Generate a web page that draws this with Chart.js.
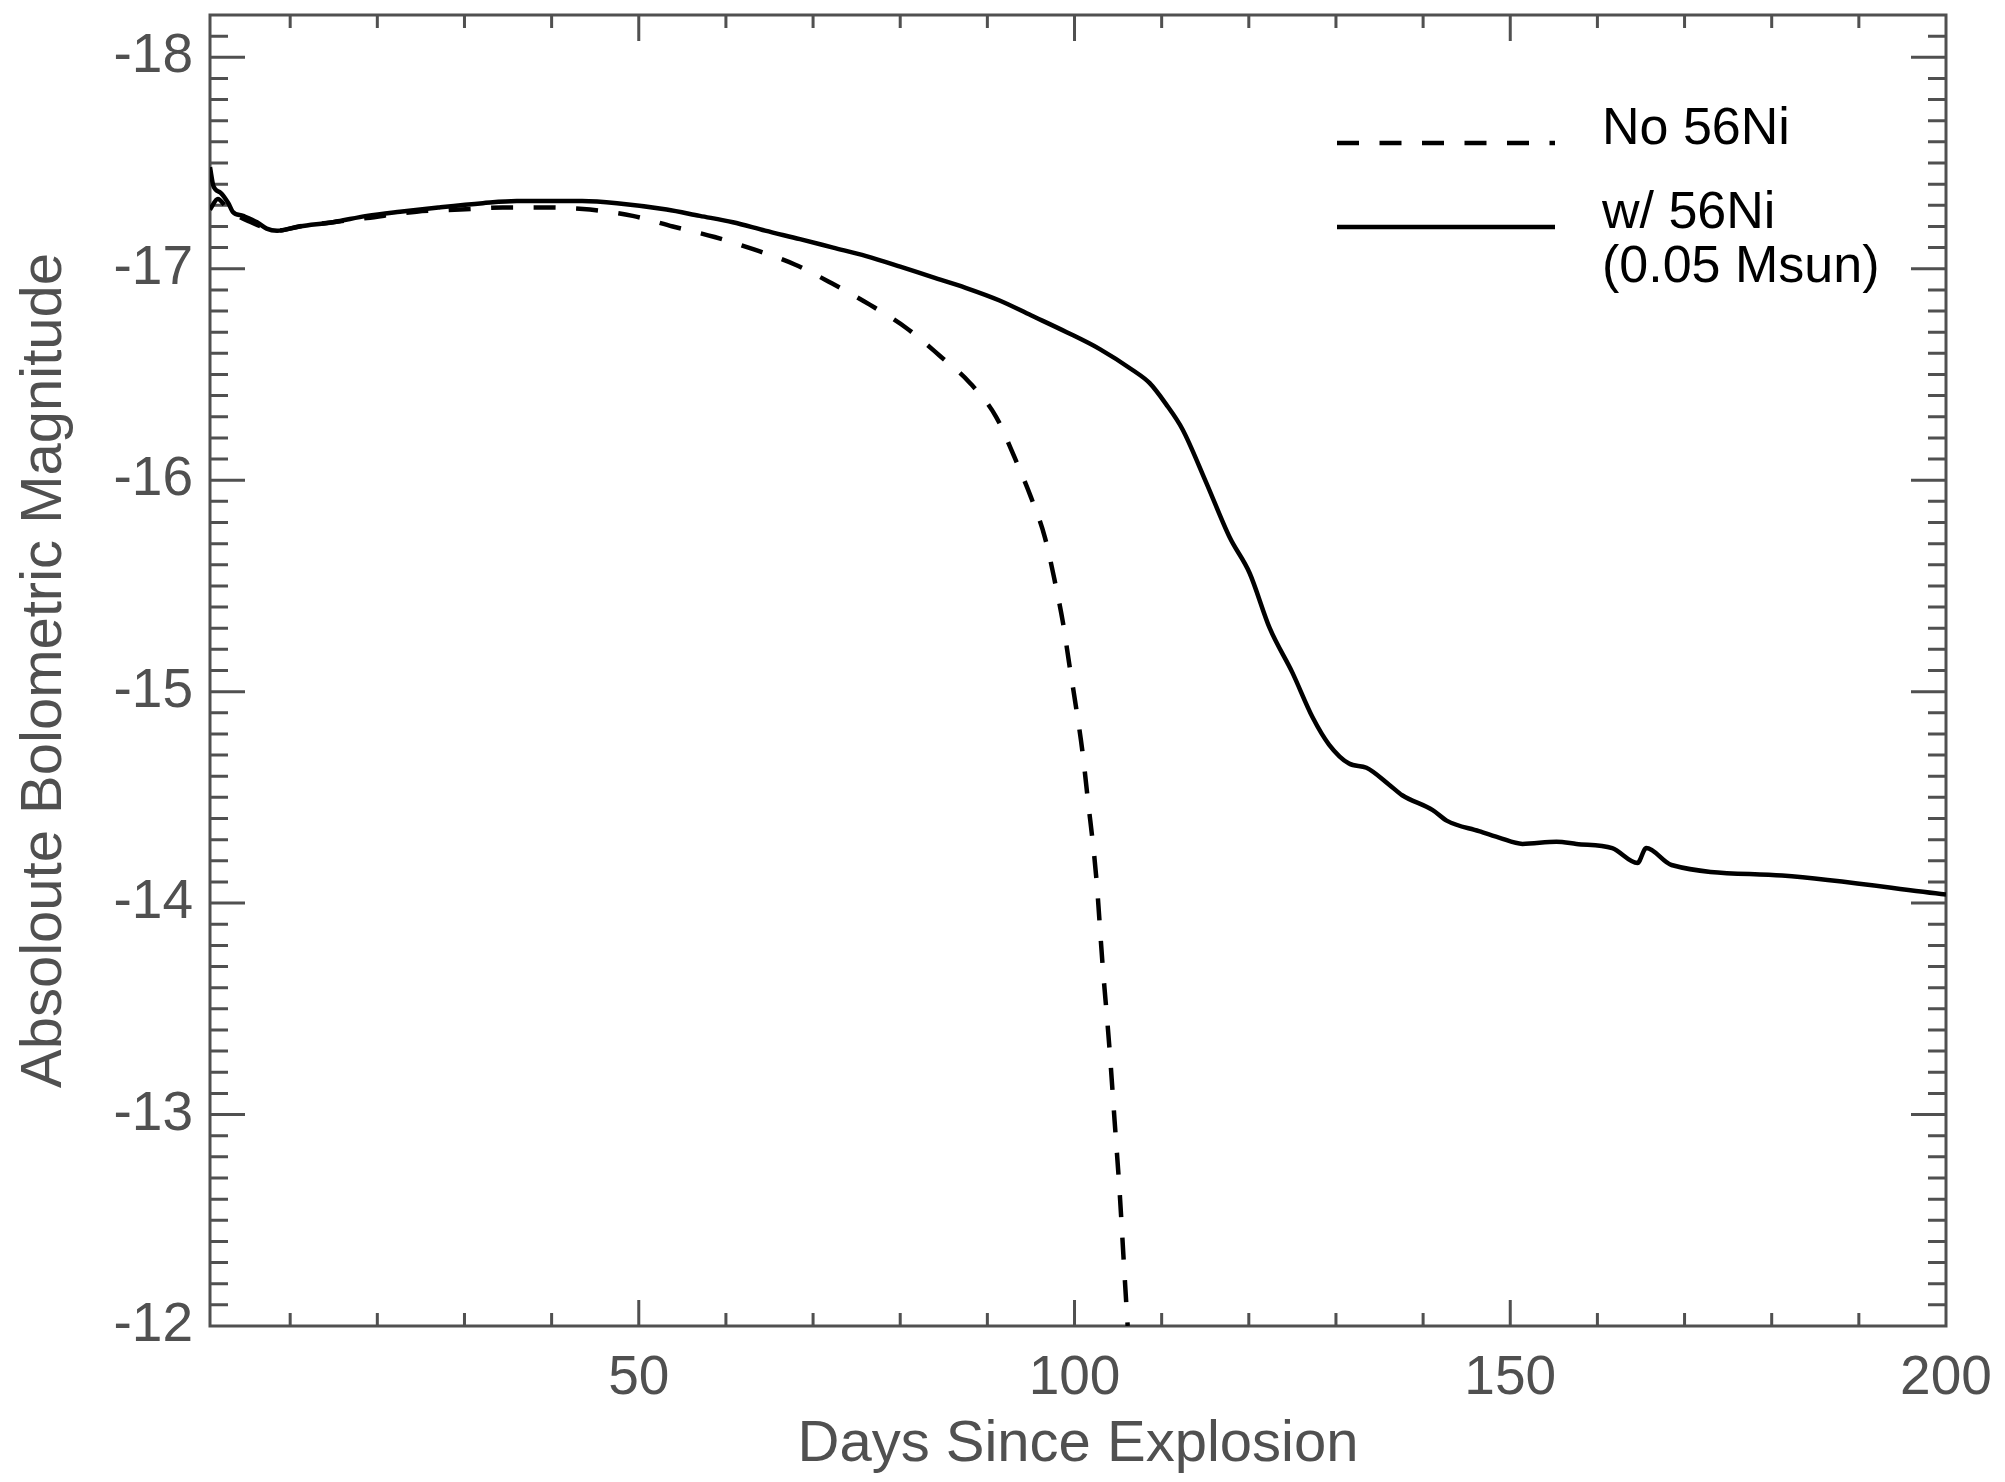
<!DOCTYPE html>
<html>
<head>
<meta charset="utf-8">
<script src="https://cdn.jsdelivr.net/npm/chart.js@4.4.0/dist/chart.umd.min.js"></script>
<style>
  html, body { margin: 0; padding: 0; background: #fff; }
  canvas { display: block; }
</style>
</head>
<body>
<canvas id="lightCurve" width="2005" height="1482"></canvas>
<script>
// light curves (days since explosion, absolute bolometric mag)
const daysNoNi = [0.8, 1.7, 2.7, 4.0, 5.5, 7.3, 8.5, 11, 14.9, 18.8, 24.5, 29.5, 34.4, 39.4, 44.4, 49.3,
  53.9, 58.7, 63.3, 67.9, 72.2, 76.5, 80.7, 84.5, 88, 91, 93.1, 95, 96.6, 97.7, 98.7, 99.4,
  100.2, 100.9, 101.5, 102.5, 103.2, 104, 104.6, 105.2, 105.7, 106.1];
const magNoNi = [-17.28, -17.33, -17.29, -17.25, -17.22, -17.19, -17.18, -17.20, -17.22, -17.24, -17.27, -17.28, -17.29, -17.29, -17.28, -17.25,
  -17.20, -17.15, -17.09, -17.02, -16.93, -16.83, -16.72, -16.59, -16.46, -16.30, -16.11, -15.92, -15.73, -15.53, -15.32, -15.13,
  -14.92, -14.72, -14.50, -14.12, -13.72, -13.32, -12.97, -12.62, -12.27, -12.0];

const daysWithNi = [0.8, 1.2, 2.0, 2.9, 3.4, 4.6, 6.2, 7.3, 8.5, 11.1, 14.9, 18.8, 22.6, 27, 32.1, 36, 39.8, 43.5, 47.5,
  53.2, 57, 60.8, 64.5, 68.5, 72.3, 76.1, 80, 83.7, 87.5, 91.4, 95, 99.1, 102.9, 106.7, 108.6, 110.5,
  112.4, 115.1, 117.8, 120.1, 122.4, 125, 127.3, 129.2, 131.5, 133.5, 136.1, 137.6, 141.1, 142.7,
  146.4, 148.7, 151.4, 155.3, 157.6, 161.7, 164.6, 165.6, 168.5, 181.2, 200];
const magWithNi = [-17.48, -17.39, -17.36, -17.31, -17.27, -17.25, -17.22, -17.19, -17.18, -17.20, -17.22, -17.25, -17.27, -17.29, -17.31, -17.32, -17.32, -17.32, -17.31,
  -17.28, -17.25, -17.22, -17.18, -17.14, -17.10, -17.06, -17.01, -16.96, -16.91, -16.85, -16.78, -16.70, -16.62, -16.52, -16.46, -16.36,
  -16.24, -15.99, -15.73, -15.56, -15.30, -15.09, -14.88, -14.75, -14.66, -14.64, -14.56, -14.51, -14.44, -14.39,
  -14.34, -14.31, -14.28, -14.29, -14.28, -14.26, -14.19, -14.26, -14.18, -14.13, -14.04];

const xTickValues = [50, 100, 150, 200];
const yTickValues = [-18, -17, -16, -15, -14, -13, -12];
const legendLabels = [['No 56Ni'], ['w/ 56Ni', '(0.05 Msun)']];

const toPoints = (xs, ys) => xs.map((x, i) => ({x: x, y: ys[i]}));

const axisGrey = '#505050';
const fontFamily = '"Liberation Sans", Arial, Helvetica, sans-serif';

// IDL style box: frame with inward major/minor ticks on all four sides
const frameTicks = {
    id: 'frameTicks',
    beforeDatasetsDraw(chart) {
        const {ctx, chartArea: a, scales: {x, y}} = chart;
        ctx.save();
        ctx.strokeStyle = axisGrey;
        ctx.lineWidth = 3;
        ctx.strokeRect(a.left, a.top, a.right - a.left, a.bottom - a.top);
        ctx.beginPath();
        for (let d = 10; d < 200; d += 10) {
            const px = x.getPixelForValue(d);
            const len = d % 50 === 0 ? 26 : 13;
            ctx.moveTo(px, a.bottom); ctx.lineTo(px, a.bottom - len);
            ctx.moveTo(px, a.top); ctx.lineTo(px, a.top + len);
        }
        for (let i = -181; i <= -121; i++) {
            const py = y.getPixelForValue(i / 10);
            const len = i % 10 === 0 ? 35 : 18;
            ctx.moveTo(a.left, py); ctx.lineTo(a.left + len, py);
            ctx.moveTo(a.right, py); ctx.lineTo(a.right - len, py);
        }
        ctx.stroke();
        ctx.restore();
    },
    afterDatasetsDraw(chart) {
        const {ctx, chartArea: a} = chart;
        const rows = [143, 227];
        ctx.save();
        ctx.font = '52px ' + fontFamily;
        ctx.fillStyle = '#000';
        ctx.textBaseline = 'alphabetic';
        chart.data.datasets.forEach((ds, i) => {
            ctx.strokeStyle = ds.borderColor;
            ctx.lineWidth = ds.borderWidth;
            ctx.setLineDash(ds.borderDash || []);
            ctx.beginPath();
            ctx.moveTo(a.right - 609, rows[i]);
            ctx.lineTo(a.right - 391, rows[i]);
            ctx.stroke();
            legendLabels[i].forEach((t, j) => ctx.fillText(t, a.right - 344, rows[i] + 1 + j * 54));
        });
        ctx.restore();
    }
};

const ctx = document.getElementById('lightCurve').getContext('2d');
new Chart(ctx, {
    type: 'line',
    data: {
        datasets: [{
            label: 'No 56Ni',
            data: toPoints(daysNoNi, magNoNi),
            borderColor: '#000',
            borderWidth: 4.5,
            borderDash: [22, 20.5],
            pointRadius: 0,
            cubicInterpolationMode: 'monotone',
            fill: false
        }, {
            label: 'w/ 56Ni (0.05 Msun)',
            data: toPoints(daysWithNi, magWithNi),
            borderColor: '#000',
            borderWidth: 4.5,
            pointRadius: 0,
            cubicInterpolationMode: 'monotone',
            fill: false
        }]
    },
    options: {
        responsive: false,
        devicePixelRatio: 1,
        animation: false,
        layout: {padding: {left: 0, top: 15, right: 59, bottom: 0}},
        plugins: {
            legend: {display: false},
            tooltip: {enabled: false}
        },
        scales: {
            x: {
                type: 'linear',
                min: 0.8,
                max: 200,
                afterBuildTicks: (scale) => { scale.ticks = xTickValues.map(v => ({value: v})); },
                afterFit: (scale) => {
                    scale.height = 156;
                    scale.paddingLeft = 0;
                    scale.paddingRight = 0;
                },
                grid: {display: false, drawTicks: false},
                border: {display: false},
                ticks: {
                    color: axisGrey,
                    padding: 20,
                    maxRotation: 0,
                    font: {family: fontFamily, size: 55}
                },
                title: {
                    display: true,
                    text: 'Days Since Explosion',
                    color: axisGrey,
                    padding: {top: 0, bottom: 2},
                    font: {family: fontFamily, size: 58}
                }
            },
            y: {
                type: 'linear',
                reverse: true,
                min: -18.2,
                max: -12,
                afterBuildTicks: (scale) => { scale.ticks = yTickValues.map(v => ({value: v})); },
                afterFit: (scale) => {
                    scale.width = 210;
                    scale.paddingTop = 0;
                    scale.paddingBottom = 0;
                },
                grid: {display: false, drawTicks: false},
                border: {display: false},
                ticks: {
                    color: axisGrey,
                    padding: 17,
                    font: {family: fontFamily, size: 55}
                },
                title: {
                    display: true,
                    text: 'Absoloute Bolometric Magnitude',
                    color: axisGrey,
                    padding: {top: 10, bottom: 0},
                    font: {family: fontFamily, size: 58}
                }
            }
        }
    },
    plugins: [frameTicks]
});
</script>
</body>
</html>
